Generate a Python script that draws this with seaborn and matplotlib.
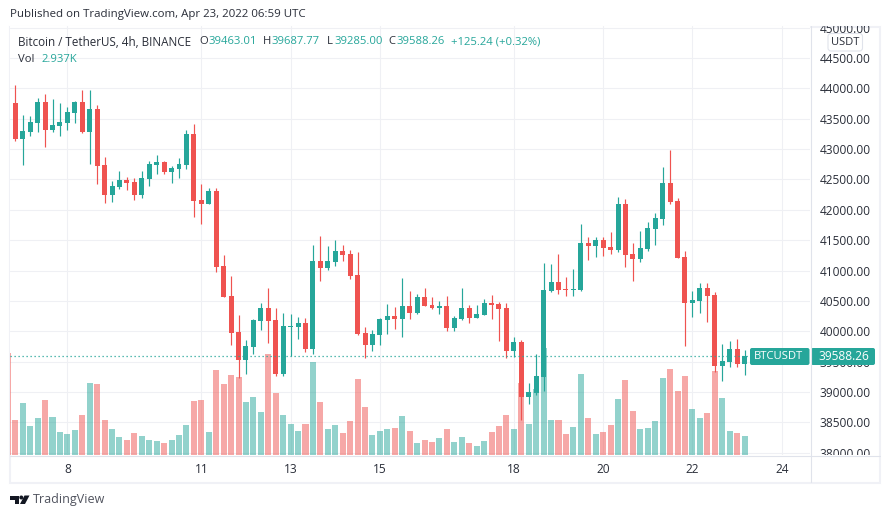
import numpy as np
import pandas as pd
import matplotlib
matplotlib.use('Agg')
import matplotlib.pyplot as plt
from matplotlib.patches import Rectangle, FancyBboxPatch, Polygon, Circle
from matplotlib.transforms import Bbox, TransformedBbox
import seaborn as sns

# candles, 4h each, the first one is cut off by the left edge
opens = [44165, 43758, 43166, 43281, 43429, 43775, 43314, 43380, 43429, 43594,
         43775, 43281, 43660, 42737, 42243, 42375, 42490, 42457, 42243, 42507,
         42737, 42787, 42622, 42671, 42737, 43248, 42161, 42095, 42309, 41074,
         40580, 39987, 39526, 39740, 40168, 40382, 40184, 39295, 40073, 40073,
         40139, 39710, 41160, 41044, 41143, 41324, 41275, 40929, 39974, 39776,
         39941, 40188, 40254, 40204, 40419, 40303, 40567, 40435, 40386, 40419,
         40056, 40204, 40386, 40221, 40270, 40468, 40452, 40386, 39677, 39826,
         38920, 38986, 39249, 40667, 40815, 40700, 40683, 40683, 41458, 41408,
         41507, 41392, 41342, 42100, 41276, 41194, 41359, 41688, 41853, 42446,
         42149, 41227, 40469, 40502, 40716, 40601, 39432, 39498, 39712, 39463.01]
highs = [44165, 44055, 43561, 43544, 43841, 43907, 43824, 43758, 43693, 43791,
         43973, 43973, 43726, 42869, 42474, 42639, 42540, 42523, 42639, 42803,
         42902, 42803, 42721, 42853, 43314, 43413, 42424, 42359, 42359, 41255,
         40909, 40267, 39855, 40201, 40464, 40712, 40382, 40300, 40287, 40237,
         40221, 41423, 41571, 41407, 41506, 41423, 41341, 41308, 40073, 40023,
         40221, 40452, 40402, 40880, 40666, 40616, 40715, 40567, 40501, 40583,
         40254, 40715, 40435, 40435, 40534, 40600, 40484, 40468, 39908, 39859,
         39150, 39623, 41127, 41112, 41276, 40898, 41029, 41771, 41556, 41556,
         41556, 41639, 42215, 42182, 41458, 41655, 41803, 41952, 42709, 42989,
         42199, 41326, 40667, 40799, 40799, 40651, 39794, 39844, 39876, 39687.77]
lows = [43753, 43133, 42737, 43215, 43281, 43034, 43281, 43215, 43314, 43429,
        43264, 42754, 42424, 42111, 42128, 42342, 42326, 42161, 42194, 42391,
        42589, 42589, 42441, 42523, 42671, 41881, 41766, 42095, 40975, 40563,
        39773, 39229, 39295, 39625, 40020, 39806, 39262, 39262, 39595, 39875,
        39661, 39628, 40830, 41011, 41077, 41160, 40863, 39941, 39562, 39677,
        39776, 39957, 40040, 39908, 40204, 40287, 40419, 40369, 40287, 40007,
        40007, 40188, 40139, 40221, 40270, 40204, 39842, 39562, 39579, 38541,
        38805, 38953, 39019, 40651, 40618, 40585, 40585, 40667, 41178, 41227,
        41243, 41276, 41309, 41062, 40832, 41145, 41326, 41425, 41754, 42100,
        41211, 39761, 40239, 40305, 40156, 39333, 39185, 39415, 39415, 39285.00]
closes = [43753, 43166, 43297, 43446, 43775, 43314, 43396, 43446, 43610, 43775,
          43281, 43660, 42721, 42243, 42391, 42490, 42441, 42243, 42523, 42754,
          42787, 42622, 42688, 42754, 43248, 42144, 42095, 42309, 41057, 40563,
          39970, 39526, 39756, 40184, 40382, 40168, 39295, 40086, 40089, 40139,
          39710, 41160, 41044, 41160, 41324, 41259, 40913, 39957, 39776, 39957,
          40204, 40254, 40204, 40419, 40303, 40567, 40419, 40386, 40419, 40056,
          40221, 40386, 40221, 40287, 40468, 40435, 40369, 39677, 39826, 38925,
          39002, 39266, 40682, 40815, 40683, 40683, 40700, 41458, 41408, 41507,
          41375, 41342, 42100, 41260, 41194, 41375, 41705, 41869, 42446, 42133,
          41211, 40469, 40519, 40716, 40585, 39432, 39514, 39712, 39465, 39588.26]
# volume in thousands
volumes = [15.7, 5.41, 8.04, 4.48, 5.72, 8.50, 5.87, 3.55, 3.25, 3.86,
           6.18, 11.13, 10.97, 5.41, 4.02, 2.78, 2.32, 3.40, 2.94, 2.32,
           2.16, 1.85, 2.32, 3.09, 4.64, 8.34, 8.50, 3.55, 13.13, 10.97,
           12.36, 12.05, 8.19, 8.96, 6.64, 15.60, 9.58, 6.18, 4.79, 3.71,
           4.79, 14.37, 8.19, 4.02, 4.64, 3.40, 5.25, 11.74, 7.42, 3.09,
           3.71, 4.02, 4.17, 6.03, 3.71, 1.85, 2.32, 2.01, 2.63, 4.02,
           2.01, 2.78, 1.85, 1.39, 2.16, 3.55, 4.48, 6.18, 4.02, 11.13,
           4.79, 10.20, 16.53, 5.41, 5.41, 3.25, 4.33, 12.51, 5.72, 3.25,
           3.55, 4.64, 8.65, 11.59, 6.80, 4.02, 4.17, 5.25, 11.90, 13.29,
           9.89, 12.21, 7.11, 5.72, 6.49, 12.98, 8.81, 3.71, 3.40, 2.937]
price_ticks = [38000 + 500 * k for k in range(15)]
day_ticks = [7, 25, 37, 49, 67, 79, 91, 103]
day_labels = ['8', '11', '13', '15', '18', '20', '22', '24']
last_price = 39588.26

GREEN = '#26a69a'
RED = '#ef5350'
TEXT = '#2a2e39'
GRID = '#eff0f4'
FONT = 'Open Sans'

sns.set_theme(style='white')
plt.rcParams['font.family'] = [FONT, 'DejaVu Sans']

df = pd.DataFrame({'idx': np.arange(-1, 99), 'open': opens, 'high': highs,
                   'low': lows, 'close': closes, 'vol': volumes})
df['dir'] = np.where(df['close'] >= df['open'], 'up', 'down')

fig = plt.figure(figsize=(8.9, 5.18), dpi=100, facecolor='white')
W, H = 890, 518

# outer frame goes under the pane so the cut candle can show against it
back = fig.add_axes([0, 0, 1, 1], zorder=0)
back.set_xlim(0, W)
back.set_ylim(H, 0)
back.axis('off')
back.add_patch(Rectangle((9.5, 26.5), 870.5, 456.5, fill=False, edgecolor='#f0f1f6', linewidth=1.5))

# price pane, pixel box 10..810 x 26..455
ax_vol = fig.add_axes([10 / W, (H - 455) / H, 800 / W, 429 / H], zorder=1)
ax = ax_vol.twinx()
ax_vol.set_zorder(1)
ax.set_zorder(2)
ax.patch.set_visible(False)

# volume bars
sns.barplot(data=df, x='idx', y='vol', hue='dir', palette={'up': GREEN, 'down': RED},
            dodge=False, native_scale=True, width=0.81, saturation=1, alpha=0.5,
            linewidth=0, legend=False, ax=ax_vol)

# candles
colors = df['dir'].map({'up': GREEN, 'down': RED})
ax.vlines(df['idx'], df['low'], df['high'], colors=colors, linewidth=0.85)
body_low = df[['open', 'close']].min(axis=1)
body_high = df[['open', 'close']].max(axis=1)
ax.bar(df['idx'], body_high - body_low, bottom=body_low, width=0.67, color=colors, linewidth=0)
ax.axhline(last_price, color=GREEN, linewidth=0.9, linestyle=(0, (1, 2.2)))

ax.set_xlim(-0.712, 106.8)
ax.set_ylim(37962, 45026)
ax_vol.set_ylim(0, 66.3)
ax_vol.set_xlim(-0.712, 106.8)

ax_vol.set_xticks(day_ticks)
ax_vol.set_xticklabels(day_labels)
ax_vol.set_yticks([])
ax_vol.set_xlabel('')
ax_vol.set_ylabel('')
ax_vol.tick_params(axis='x', length=0, pad=6, labelsize=8.6, labelcolor=TEXT)
ax_vol.grid(True, axis='x', color=GRID, linewidth=0.8)
ax_vol.set_axisbelow(True)

ax.set_yticks(price_ticks)
ax.set_yticklabels([f'{p:.2f}' for p in price_ticks])
ax.tick_params(axis='y', length=0, pad=7, labelsize=8.6, labelcolor=TEXT)

# the horizontal grid has to sit under the bars too
for p in price_ticks:
    ax_vol.axhline((p - 37962) / (45026 - 37962) * 66.3, color=GRID, linewidth=0.8, zorder=0)

for a in (ax, ax_vol):
    for s in a.spines.values():
        s.set_visible(False)

# price labels get cut at the top and bottom of the scale
clip = TransformedBbox(Bbox([[810 / W, (H - 455) / H], [880 / W, (H - 26) / H]]), fig.transFigure)
for lab in ax.get_yticklabels():
    lab.set_clip_on(True)
    lab.set_clip_box(clip)

# overlay in pixels for the separators, badges and header
ov = fig.add_axes([0, 0, 1, 1], zorder=5)
ov.set_xlim(0, W)
ov.set_ylim(H, 0)
ov.axis('off')
ov.patch.set_visible(False)

ov.plot([810.5, 810.5], [26, 482], color='#e0e3eb', linewidth=0.8)
ov.plot([10, 880], [455.5, 455.5], color='#e0e3eb', linewidth=0.8)

ov.text(10, 14.5, 'Published on TradingView.com, Apr 23, 2022 06:59 UTC', fontsize=8.25,
        color=TEXT, va='center', ha='left')

HEAD = 8.1
ov.text(18, 42, 'Bitcoin / TetherUS, 4h, BINANCE', fontsize=8.35, color=TEXT, va='center')
header = [(199.5, 'O', 208, '39463.01'), (263, 'H', 271, '39687.77'),
          (327, 'L', 334, '39285.00'), (388, 'C', 396, '39588.26')]
for x0, key, x1, val in header:
    ov.text(x0, 42, key, fontsize=HEAD, color=TEXT, va='center')
    ov.text(x1, 42, val, fontsize=HEAD, color=GREEN, va='center')
ov.text(451, 42, '+125.24 (+0.32%)', fontsize=HEAD, color=GREEN, va='center')
ov.text(18, 59, 'Vol', fontsize=HEAD, color=TEXT, va='center')
ov.text(41.5, 59, '2.937K', fontsize=HEAD, color=GREEN, va='center')

# USDT box on the scale
ov.add_patch(FancyBboxPatch((829, 34.5), 32.5, 15.5, boxstyle='round,pad=1,rounding_size=3',
                            facecolor='white', edgecolor='#e0e3eb', linewidth=0.8))
ov.text(845.3, 42.5, 'USDT', fontsize=8.0, color=TEXT, va='center', ha='center')

# last price badges
ov.add_patch(FancyBboxPatch((750, 348), 59.5, 17, boxstyle='round,pad=0,rounding_size=2',
                            facecolor=GREEN, edgecolor='none'))
ov.add_patch(FancyBboxPatch((811, 348), 64, 17, boxstyle='round,pad=0,rounding_size=2',
                            facecolor=GREEN, edgecolor='none'))
ov.text(778.5, 356.5, 'BTCUSDT', fontsize=8.1, color='white', va='center', ha='center')
ov.text(844, 356.5, '39588.26', fontsize=8.6, color='white', va='center', ha='center')

# logo
ov.text(33, 500, 'TradingView', fontsize=9.0, color='#50535e', va='center')
ov.add_patch(Polygon([(10, 495.5), (19, 495.5), (19, 504), (14.5, 504), (14.5, 499.5), (10, 499.5)],
                     facecolor='#131722', edgecolor='none'))
ov.add_patch(Circle((21.3, 497.5), 2, facecolor='#131722', edgecolor='none'))
ov.add_patch(Polygon([(24.5, 495.5), (29.5, 495.5), (25, 504), (20, 504)], facecolor='#131722', edgecolor='none'))

fig.savefig('out.png', dpi=100)
